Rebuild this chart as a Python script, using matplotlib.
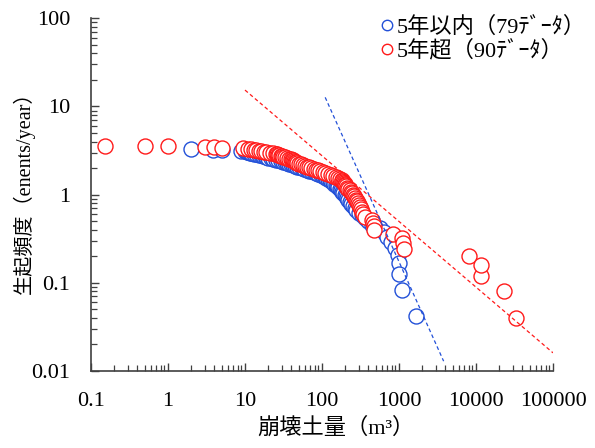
import numpy as np
import matplotlib
matplotlib.use("Agg")
import matplotlib.pyplot as plt
from matplotlib.lines import Line2D
from matplotlib.ticker import LogLocator, NullFormatter, FixedLocator, FixedFormatter

plt.rcParams['font.family'] = ['Liberation Serif', 'Noto Sans CJK JP']

# Landslide volumes (m3), largest first
vol_recent = [1650, 1100, 1000, 1000, 980, 900, 780, 700, 640, 560,
              450, 400, 360, 330, 300, 280, 265, 250, 240, 230,
              220, 212, 205, 198, 190, 183, 176, 170, 163, 156,
              150, 144, 138, 132, 126, 120, 114, 108, 102, 96,
              90, 84, 78, 73, 68, 63, 59, 55, 51, 48,
              45, 42, 39, 37, 35, 33, 31, 29, 27, 25,
              23, 21.5, 20, 19, 18, 17, 16, 15, 14, 13,
              12, 11.5, 11, 10.5, 10, 9, 5.0, 3.8, 2.0]
vol_older = [33000, 23000, 11500, 11500, 8200,
             1150, 1130, 1100, 830, 480,
             470, 460, 440, 360, 345,
             335, 325, 315, 305, 295,
             285, 275, 265, 258, 250,
             243, 236, 228, 220, 213,
             206, 200, 196, 192, 188,
             184, 180, 170, 160, 150,
             140, 130, 120, 110, 102,
             95, 89, 83, 78, 73,
             68, 64, 60, 56, 53,
             50, 48, 46, 44, 43,
             42, 41, 39, 37, 35,
             33, 31, 30, 29, 28,
             27, 26, 25, 23, 21,
             19, 17.5, 16, 15, 14,
             13, 12, 11, 9.5, 5.0,
             3.9, 3.0, 1.0, 0.5, 0.15]

# Observation periods (years) used to turn exceedance counts into annual frequency
years_recent = 24
years_older = 25

# Power-law fits  f = a * V^b  and the volume range each is drawn over
fit_recent = dict(a=10 ** 5.074, b=-1.945, vmin=110, vmax=3800)
fit_older = dict(a=10 ** 1.931, b=-0.745, vmin=10, vmax=100000)

labels = ['5年以内（79ﾃﾞｰﾀ）', '5年超（90ﾃﾞｰﾀ）']
x_ticks = [0.1, 1, 10, 100, 1000, 10000, 100000]
x_tick_labels = ['0.1', '1', '10', '100', '1000', '10000', '100000']
y_ticks = [0.01, 0.1, 1, 10, 100]
y_tick_labels = ['0.01', '0.1', '1', '10', '100']

BLUE = '#2250d8'
RED = '#ff1a1a'


def exceedance(vols, years):
    v = np.sort(np.asarray(vols, dtype=float))[::-1]
    rank = np.arange(1, len(v) + 1)
    return v, rank / years


fig = plt.figure(figsize=(5.95, 4.48), dpi=100)
ax = fig.add_axes([91 / 595, 77 / 448, 462 / 595, 352.7 / 448])

for vols, yrs, col, z in [(vol_recent, years_recent, BLUE, 2),
                          (vol_older, years_older, RED, 3)]:
    v, f = exceedance(vols, yrs)
    order = np.argsort(v)
    ax.plot(v[order], f[order], linestyle='none', marker='o', markersize=10.8,
            markerfacecolor='white', markeredgecolor=col, markeredgewidth=1.0,
            zorder=z)

for fit, col in [(fit_recent, BLUE), (fit_older, RED)]:
    xv = np.logspace(np.log10(fit['vmin']), np.log10(fit['vmax']), 100)
    ax.plot(xv, fit['a'] * xv ** fit['b'], color=col, linewidth=0.9,
            linestyle=(0, (3, 2.2)), zorder=4)

ax.set_xscale('log')
ax.set_yscale('log')
ax.set_xlim(0.1, 100000)
ax.set_ylim(0.01, 100)

ax.xaxis.set_major_locator(FixedLocator(x_ticks))
ax.xaxis.set_major_formatter(FixedFormatter(x_tick_labels))
ax.yaxis.set_major_locator(FixedLocator(y_ticks))
ax.yaxis.set_major_formatter(FixedFormatter(y_tick_labels))
ax.xaxis.set_minor_locator(LogLocator(base=10, subs=np.arange(2, 10), numticks=20))
ax.yaxis.set_minor_locator(LogLocator(base=10, subs=np.arange(2, 10), numticks=20))
ax.xaxis.set_minor_formatter(NullFormatter())
ax.yaxis.set_minor_formatter(NullFormatter())

spine_col = '#404040'
for s in ['top', 'right']:
    ax.spines[s].set_visible(False)
for s in ['left', 'bottom']:
    ax.spines[s].set_color(spine_col)
    ax.spines[s].set_linewidth(1.2)

ax.tick_params(which='major', direction='in', length=6, width=1.0,
               color=spine_col, labelsize=16, labelcolor='black')
ax.tick_params(which='minor', direction='in', length=4, width=0.9,
               color=spine_col)
ax.tick_params(axis='x', which='major', pad=15)
ax.tick_params(axis='y', which='major', pad=15)

fig.text(24 / 595, 1 - 188 / 448, '生起頻度（enents/year）', rotation=90,
         ha='center', va='center', fontsize=14.5)
fig.text(336 / 595, 1 - 428 / 448, '崩壊土量（m³）',
         ha='center', va='center', fontsize=16)

handles = [Line2D([], [], linestyle='none', marker='o', markersize=7.5,
                  markerfacecolor='white', markeredgecolor=c,
                  markeredgewidth=1.0) for c in (BLUE, RED)]
leg = ax.legend(handles, labels, loc='upper left',
                bbox_to_anchor=(380 / 595, 1 - 17 / 448),
                bbox_transform=fig.transFigure, frameon=False,
                fontsize=16, handlelength=0.6, handletextpad=0.15,
                labelspacing=0.08, borderpad=0, borderaxespad=0)

fig.savefig('out.png', dpi=100)
